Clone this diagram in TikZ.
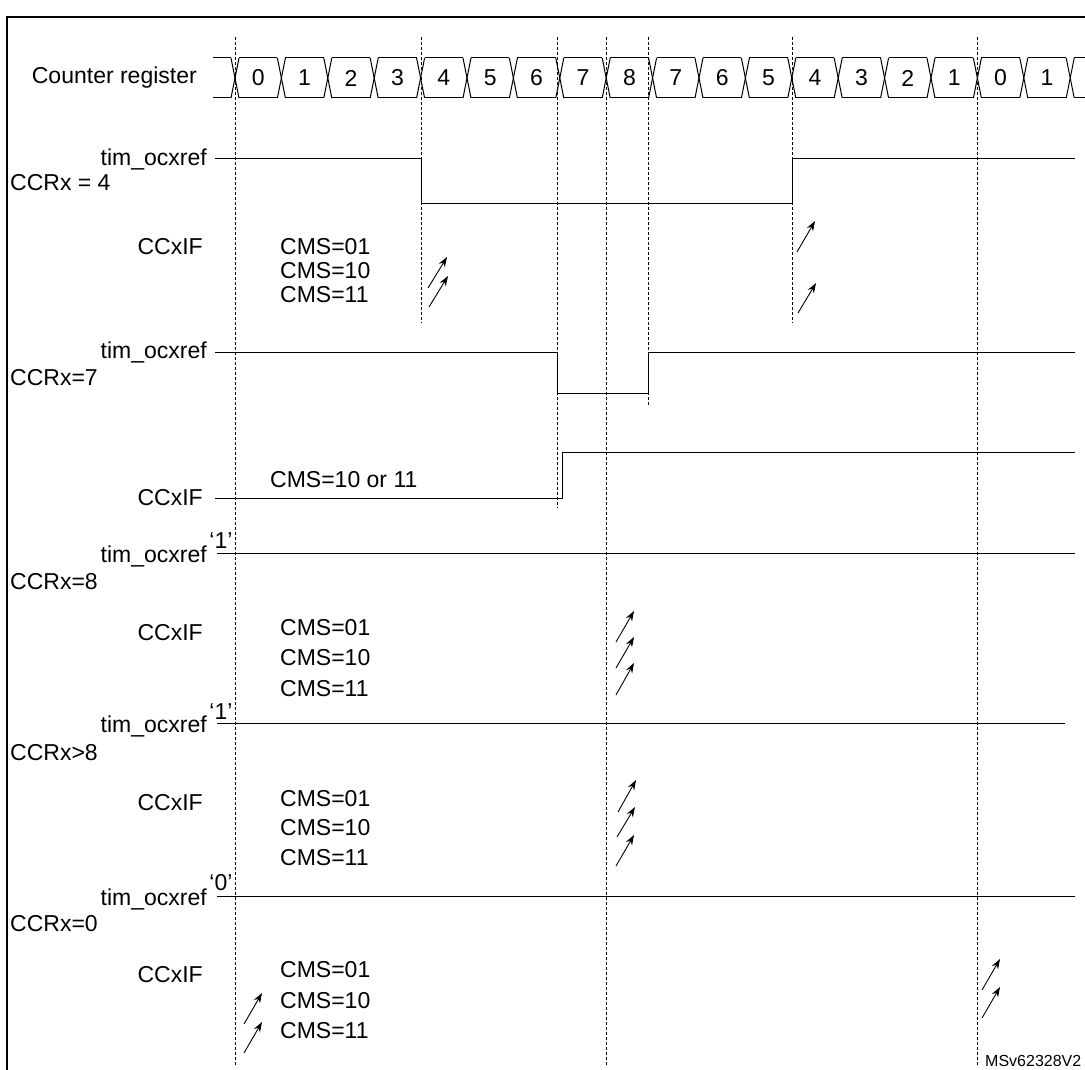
\documentclass[tikz,border=0pt]{standalone}
\usepackage{fontspec}
\setmainfont{Liberation Sans}
\usetikzlibrary{arrows.meta}
\tikzset{
  sig/.style={line width=1pt},
  guide/.style={dashed, line width=0.7pt, dash pattern=on 3pt off 2pt},
  lbl/.style={inner sep=0pt, font=\fontsize{23}{27}\selectfont},
  flag/.style={-{Stealth[length=10pt,width=7pt]}, line width=0.9pt}
}
\begin{document}
\begin{tikzpicture}[x=1pt, y=-1pt]
\useasboundingbox (0,0) rectangle (1085,1070);

% frame
\draw[line width=2pt] (7,1070) -- (7,17) -- (1085,17);

% guide lines
\draw[guide] (235,37) -- (235,1065);
\draw[guide] (421,37) -- (421,323);
\draw[guide] (557,37) -- (557,508);
\draw[guide] (606,37) -- (606,1065);
\draw[guide] (648,37) -- (648,406);
\draw[guide] (792,37) -- (792,323);
\draw[guide] (977,37) -- (977,1065);

% counter register
\node[lbl, anchor=east] (cnt) at (197,78) {Counter register};
\draw[sig] (213,58) -- (231,58);
\draw[sig] (213,98) -- (231,98);
\foreach \k in {0,...,18} {
  \pgfmathsetmacro{\b}{235+46.4*\k}
  \draw[sig] (\b-4,58) -- (\b+4,98);
  \draw[sig] (\b-4,98) -- (\b+4,58);
}
\foreach \v [count=\k from 0] in {0,1,2,3,4,5,6,7,8,7,6,5,4,3,2,1,0,1} {
  \pgfmathsetmacro{\b}{235+46.4*\k}
  \draw[sig] (\b+4,58) -- (\b+42.4,58);
  \draw[sig] (\b+4,98) -- (\b+42.4,98);
  \node[lbl] (c\k) at (\b+23.2,78) {\v};
}
\draw[sig] (1074,58) -- (1085,58);
\draw[sig] (1074,98) -- (1085,98);

% CCRx = 4
\node[lbl, anchor=east] (ref1) at (207,159) {tim\_ocxref};
\node[lbl, anchor=west] (ccr1) at (10,183) {CCRx = 4};
\draw[sig] (215,159) -- (421,159) -- (421,204) -- (792,204) -- (792,159) -- (1075,159);
\node[lbl, anchor=east] (if1) at (203,247) {CCxIF};
\node[lbl, anchor=west] (cms11) at (280,247) {CMS=01};
\node[lbl, anchor=west] (cms12) at (280,271) {CMS=10};
\node[lbl, anchor=west] (cms13) at (280,295) {CMS=11};
\draw[flag] (428,288) -- (447,257);
\draw[flag] (429,307) -- (448,276);
\draw[flag] (797,252) -- (815,221);
\draw[flag] (798,313) -- (816,283);

% CCRx = 7
\node[lbl, anchor=east] (ref2) at (207,352) {tim\_ocxref};
\node[lbl, anchor=west] (ccr2) at (10,378) {CCRx=7};
\draw[sig] (215,352) -- (557,352) -- (557,393) -- (648,393) -- (648,352) -- (1075,352);
\node[lbl, anchor=east] (if2) at (203,498) {CCxIF};
\node[lbl, anchor=west] (cms2) at (270,480) {CMS=10 or 11};
\draw[sig] (215,498) -- (562,498) -- (562,452) -- (1075,452);

% CCRx = 8
\node[lbl] (one3) at (221,541) {‘1’};
\node[lbl, anchor=east] (ref3) at (207,556) {tim\_ocxref};
\node[lbl, anchor=west] (ccr3) at (10,582) {CCRx=8};
\draw[sig] (217,553) -- (1075,553);
\node[lbl, anchor=east] (if3) at (203,633) {CCxIF};
\node[lbl, anchor=west] (cms31) at (280,628) {CMS=01};
\node[lbl, anchor=west] (cms32) at (280,658) {CMS=10};
\node[lbl, anchor=west] (cms33) at (280,689) {CMS=11};
\draw[flag] (616,642) -- (634,611);
\draw[flag] (616,668) -- (634,637);
\draw[flag] (616,695) -- (634,663);

% CCRx > 8
\node[lbl] (one4) at (221,712) {‘1’};
\node[lbl, anchor=east] (ref4) at (207,726) {tim\_ocxref};
\node[lbl, anchor=west] (ccr4) at (10,753) {CCRx>8};
\draw[sig] (217,723) -- (1065,723);
\node[lbl, anchor=east] (if4) at (203,803) {CCxIF};
\node[lbl, anchor=west] (cms41) at (280,799) {CMS=01};
\node[lbl, anchor=west] (cms42) at (280,828) {CMS=10};
\node[lbl, anchor=west] (cms43) at (280,858) {CMS=11};
\draw[flag] (618,812) -- (636,780);
\draw[flag] (617,837) -- (635,807);
\draw[flag] (616,866) -- (634,835);

% CCRx = 0
\node[lbl] (zero5) at (221,883) {‘0’};
\node[lbl, anchor=east] (ref5) at (207,899) {tim\_ocxref};
\node[lbl, anchor=west] (ccr5) at (10,924) {CCRx=0};
\draw[sig] (217,896) -- (1075,896);
\node[lbl, anchor=east] (if5) at (203,975) {CCxIF};
\node[lbl, anchor=west] (cms51) at (280,970) {CMS=01};
\node[lbl, anchor=west] (cms52) at (280,1001) {CMS=10};
\node[lbl, anchor=west] (cms53) at (280,1031) {CMS=11};
\draw[flag] (244,1024) -- (262,993);
\draw[flag] (244,1053) -- (262,1022);
\draw[flag] (982,990) -- (1000,959);
\draw[flag] (982,1018) -- (1000,987);

\node[lbl, anchor=west, font=\fontsize{16}{19}\selectfont] (ref) at (985,1061) {MSv62328V2};
\end{tikzpicture}
\end{document}
